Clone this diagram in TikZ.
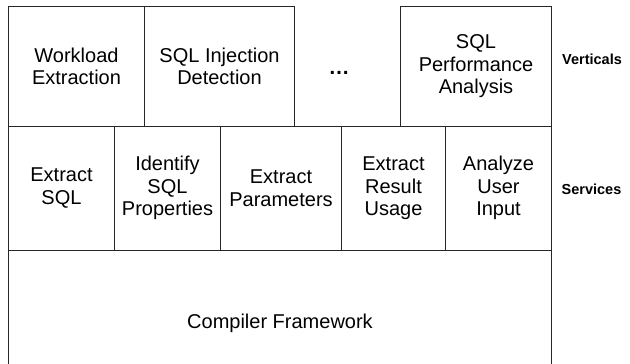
\documentclass[tikz,border=0pt]{standalone}
\usepackage{fontspec}
\setmainfont{Liberation Sans}
\begin{document}
\begin{tikzpicture}[x=1pt,y=-1pt]
\tikzset{
  cell/.style={draw=black!85, line width=1pt, anchor=north west, inner sep=0pt,
    align=center, font=\fontsize{20}{22.5}\selectfont},
  layertag/.style={anchor=base west, inner sep=0pt,
    font=\fontsize{14.5}{16}\selectfont\bfseries},
}
\useasboundingbox (0,0) rectangle (630,364);
\clip (0,0) rectangle (630,364);

% verticals
\node[cell, minimum width=136, minimum height=120] (wl) at (8,6) {Workload\\Extraction};
\node[cell, minimum width=150, minimum height=120] (inj) at (144,6) {SQL Injection\\Detection};
\node[anchor=base, inner sep=0pt, font=\fontsize{21}{22}\selectfont\bfseries] (more) at (339,74.3) {…};
\node[cell, minimum width=151, minimum height=120] (perf) at (400,6) {SQL\\Performance\\Analysis};

% services
\node[cell, minimum width=106, minimum height=123.5] (exsql) at (8,126) {Extract\\SQL};
\node[cell, minimum width=106, minimum height=123.5] (idsql) at (114,126) {Identify\\SQL\\Properties};
\node[cell, minimum width=121, minimum height=123.5] (expar) at (220,126) {Extract\\Parameters};
\node[cell, minimum width=104, minimum height=123.5] (exres) at (341,126) {Extract\\Result\\Usage};
\node[cell, minimum width=106, minimum height=123.5] (anin) at (445,126) {Analyze\\User\\Input};

% framework
\node[cell, minimum width=543, minimum height=146] (cf) at (8,249.5) {Compiler Framework};

% layer names
\node[layertag] (vt) at (562,64) {Verticals};
\node[layertag] (sv) at (561.5,194) {Services};
\end{tikzpicture}
\end{document}
